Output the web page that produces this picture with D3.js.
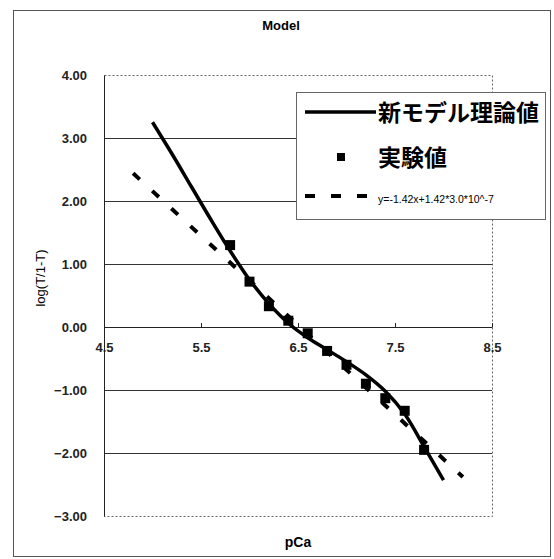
<!DOCTYPE html>
<html>
<head>
<meta charset="utf-8">
<script src="https://cdn.jsdelivr.net/npm/d3@7"></script>
<style>
  body { margin: 0; background: #fff; }
  svg { display: block; font-family: "Liberation Sans", Arial, sans-serif; }
</style>
</head>
<body>
<div id="chart"></div>
<script>
// Data
// ==============================================================================
var xTicks = [4.5, 5.5, 6.5, 7.5, 8.5];
var yTicks = [-3, -2, -1, 0, 1, 2, 3, 4];

// experimental points (実験値)
var expX = [5.8, 6.0, 6.2, 6.4, 6.6, 6.8, 7.0, 7.2, 7.4, 7.6, 7.8];
var expY = [1.30, 0.72, 0.33, 0.10, -0.10, -0.38, -0.60, -0.90, -1.13, -1.33, -1.95];

// new model curve (新モデル理論値)
var modelX = [5.0, 5.2, 5.4, 5.6, 5.8, 6.0, 6.2, 6.4, 6.6, 6.8, 7.0, 7.2, 7.4, 7.6, 7.8, 8.0];
var modelY = [3.25, 2.75, 2.23, 1.71, 1.21, 0.75, 0.37, 0.06, -0.17, -0.36, -0.55, -0.76, -1.02, -1.38, -1.90, -2.43];

// linear line y=-1.42x+1.42*3.0*10^-7 (end points)
var fitX = [4.8, 8.2];
var fitY = [2.44, -2.38];

var legendLabels = ["新モデル理論値", "実験値", "y=-1.42x+1.42*3.0*10^-7"];

// Canvas
// ==============================================================================
var svgWidth = 554;
var svgHeight = 559;

var margin = { top: 75, right: 62, bottom: 43, left: 104 };
var width = 492 - margin.left;
var height = 516 - margin.top;

var svg = d3.select("#chart")
  .append("svg")
  .attr("width", svgWidth)
  .attr("height", svgHeight);

// outer chart frame
svg.append("rect")
  .attr("x", 13.5)
  .attr("y", 10.5)
  .attr("width", 537)
  .attr("height", 546)
  .attr("fill", "none")
  .attr("stroke", "#555")
  .attr("stroke-width", 1);

var chartGroup = svg.append("g")
  .attr("transform", `translate(${margin.left}, ${margin.top})`);

// Scales
// ==============================================================================
var xScale = d3.scaleLinear().domain([4.5, 8.5]).range([0, width]);
var yScale = d3.scaleLinear().domain([-3, 4]).range([height, 0]);

// plot area border (dotted)
chartGroup.append("rect")
  .attr("x", 0.5)
  .attr("y", 0.5)
  .attr("width", width)
  .attr("height", height)
  .attr("fill", "none")
  .attr("stroke", "#666")
  .attr("stroke-dasharray", "2,2");

// gridlines
chartGroup.append("g")
  .call(d3.axisLeft(yScale).tickValues(yTicks.filter(d => d > -3 && d < 4)).tickSize(-width).tickFormat(""))
  .call(g => g.select(".domain").remove())
  .call(g => g.selectAll("line").attr("stroke", "#333").attr("stroke-width", 1));

// y axis
chartGroup.append("g")
  .call(d3.axisLeft(yScale).tickValues(yTicks).tickSize(0).tickPadding(17).tickFormat(d3.format(".2f")))
  .call(g => g.select(".domain").attr("stroke", "#222"))
  .call(g => g.selectAll("text").attr("font-size", 13).attr("font-weight", "bold").attr("fill", "#222")
    .attr("font-family", "'Liberation Sans', Arial, sans-serif"));

// x axis at y = 0
chartGroup.append("g")
  .attr("transform", `translate(0, ${yScale(0)})`)
  .call(d3.axisBottom(xScale).tickValues(xTicks).tickSizeInner(-4).tickSizeOuter(0).tickPadding(16).tickFormat(d3.format(".1f")))
  .call(g => g.select(".domain").attr("stroke", "#222"))
  .call(g => g.selectAll("line").attr("stroke", "#222"))
  .call(g => g.selectAll("text").attr("font-size", 13).attr("font-weight", "bold").attr("fill", "#222")
    .attr("font-family", "'Liberation Sans', Arial, sans-serif"));

// Series
// ==============================================================================
var line = d3.line()
  .x(d => xScale(d[0]))
  .y(d => yScale(d[1]));

// dashed linear line
chartGroup.append("path")
  .datum(fitX.map((x, i) => [x, fitY[i]]))
  .attr("d", line)
  .attr("fill", "none")
  .attr("stroke", "#000")
  .attr("stroke-width", 4)
  .attr("stroke-dasharray", "9,17");

// model curve
chartGroup.append("path")
  .datum(modelX.map((x, i) => [x, modelY[i]]))
  .attr("d", line.curve(d3.curveCatmullRom.alpha(0.5)))
  .attr("fill", "none")
  .attr("stroke", "#000")
  .attr("stroke-width", 3.5);

// experimental squares
var sq = 10;
chartGroup.selectAll(".exp")
  .data(expX.map((x, i) => [x, expY[i]]))
  .enter()
  .append("rect")
  .attr("class", "exp")
  .attr("x", d => xScale(d[0]) - sq / 2)
  .attr("y", d => yScale(d[1]) - sq / 2)
  .attr("width", sq)
  .attr("height", sq)
  .attr("fill", "#000");

// Legend
// ==============================================================================
var legend = svg.append("g").attr("transform", "translate(296, 92)");

legend.append("rect")
  .attr("x", 0.5)
  .attr("y", 0.5)
  .attr("width", 249)
  .attr("height", 127)
  .attr("fill", "#fff")
  .attr("stroke", "#666");

legend.append("line")
  .attr("x1", 9).attr("x2", 80).attr("y1", 20).attr("y2", 20)
  .attr("stroke", "#000").attr("stroke-width", 3.5);

legend.append("rect")
  .attr("x", 41).attr("y", 61).attr("width", 8).attr("height", 8)
  .attr("fill", "#000");

legend.append("line")
  .attr("x1", 9).attr("x2", 80).attr("y1", 104).attr("y2", 104)
  .attr("stroke", "#000").attr("stroke-width", 4)
  .attr("stroke-dasharray", "10,16");

legend.selectAll(".lbl")
  .data(legendLabels)
  .enter()
  .append("text")
  .attr("class", "lbl")
  .attr("x", 82)
  .attr("y", (d, i) => [29, 74, 111][i])
  .attr("font-family", (d, i) => i < 2 ? "'Noto Sans CJK JP', sans-serif" : "'Liberation Sans', Arial, sans-serif")
  .attr("font-weight", (d, i) => i < 2 ? "bold" : "normal")
  .attr("font-size", (d, i) => i < 2 ? 23 : 10.5)
  .attr("fill", "#000")
  .text(d => d);

// Titles
// ==============================================================================
svg.append("text")
  .attr("x", 281)
  .attr("y", 30)
  .attr("text-anchor", "middle")
  .attr("font-size", 13)
  .attr("font-weight", "bold")
  .text("Model");

svg.append("text")
  .attr("x", 298)
  .attr("y", 547)
  .attr("text-anchor", "middle")
  .attr("font-size", 14)
  .attr("font-weight", "bold")
  .text("pCa");

svg.append("text")
  .attr("transform", "translate(45, 278) rotate(-90)")
  .attr("text-anchor", "middle")
  .attr("font-size", 13)
  .text("log(T/1-T)");
</script>
</body>
</html>
